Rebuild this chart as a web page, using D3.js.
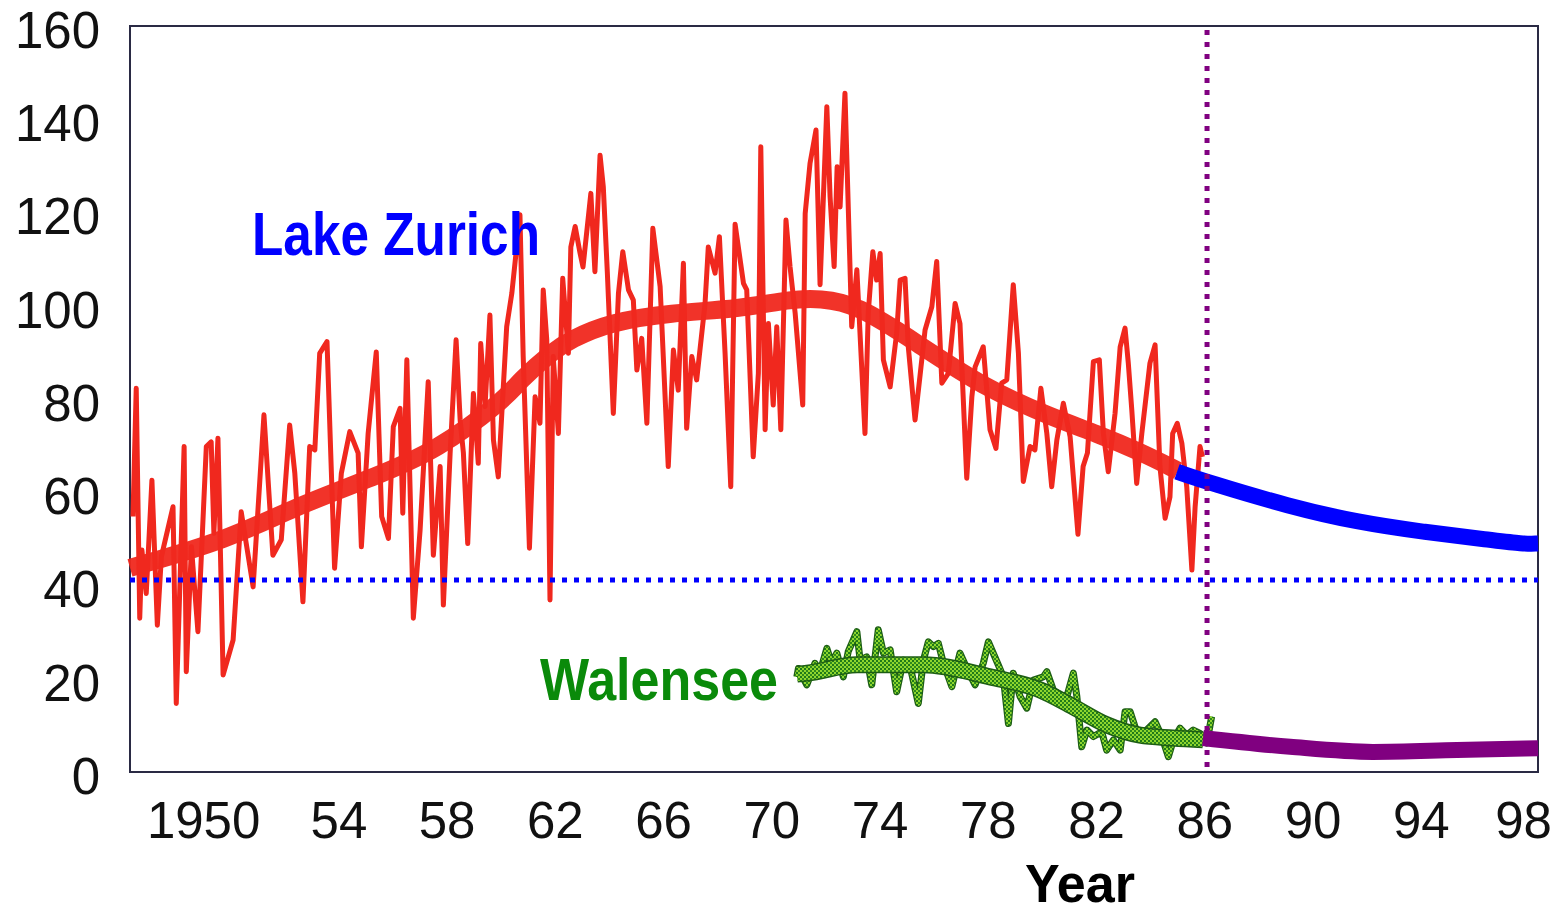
<!DOCTYPE html>
<html>
<head>
<meta charset="utf-8">
<script src="https://cdn.jsdelivr.net/npm/d3@7"></script>
<style>
  html, body { margin: 0; padding: 0; background: #fff; }
  svg { display: block; }
</style>
</head>
<body>
<svg id="chart"></svg>
<script>
// Lake Zurich monthly series [year, value]
const zurichMonthly = [
  [1946.41,54.8],[1946.53,82.3],[1946.66,33.0],[1946.74,47.6],[1946.90,38.3],[1947.11,62.6],[1947.31,31.5],[1947.46,46.2],
  [1947.89,56.9],[1948.01,14.7],[1948.30,69.8],[1948.38,21.5],[1948.57,48.3],[1948.81,30.1],[1949.12,69.8],[1949.30,70.8],
  [1949.40,51.2],[1949.55,71.6],[1949.74,20.8],[1950.11,28.3],[1950.41,55.8],[1950.85,39.7],[1951.25,76.6],[1951.58,46.5],
  [1951.89,49.8],[1952.20,74.4],[1952.39,64.1],[1952.69,36.5],[1952.94,69.8],[1953.13,69.1],[1953.31,89.8],[1953.58,92.3],
  [1953.86,43.7],[1954.11,64.1],[1954.42,73.0],[1954.73,68.4],[1954.85,48.3],[1955.10,72.6],[1955.40,90.1],[1955.60,54.8],
  [1955.85,50.1],[1956.03,74.1],[1956.28,78.0],[1956.38,55.5],[1956.53,88.4],[1956.77,33.0],[1957.02,51.9],[1957.32,83.7],
  [1957.51,46.5],[1957.76,65.5],[1957.88,35.8],[1958.13,68.4],[1958.35,92.7],[1958.50,75.5],[1958.62,68.4],[1958.78,49.0],
  [1958.99,81.2],[1959.17,66.2],[1959.26,91.9],[1959.42,78.4],[1959.60,98.0],[1959.73,71.2],[1959.91,63.3],[1960.04,76.9],
  [1960.22,95.5],[1960.41,102.7],[1960.59,112.7],[1960.71,119.5],[1960.83,89.1],[1961.06,48.0],[1961.27,80.5],[1961.45,74.8],
  [1961.57,103.4],[1961.70,92.7],[1961.82,36.9],[1961.94,89.1],[1962.13,72.6],[1962.29,105.9],[1962.50,89.8],[1962.59,112.6],
  [1962.75,117.0],[1962.93,111.3],[1963.04,108.3],[1963.33,124.1],[1963.48,107.3],[1963.67,132.3],[1963.79,125.5],[1963.94,107.0],
  [1964.16,76.9],[1964.35,102.7],[1964.51,111.6],[1964.72,103.4],[1964.90,101.2],[1965.03,86.2],[1965.21,93.0],[1965.40,74.8],
  [1965.62,116.6],[1965.89,104.1],[1966.19,65.5],[1966.38,90.5],[1966.56,81.9],[1966.75,109.1],[1966.87,73.7],[1967.06,89.1],
  [1967.24,84.1],[1967.55,100.5],[1967.67,112.6],[1967.92,107.0],[1968.08,114.8],[1968.29,89.8],[1968.50,61.2],[1968.66,117.5],
  [1968.97,104.8],[1969.09,103.4],[1969.33,67.6],[1969.52,85.5],[1969.61,134.1],[1969.77,73.4],[1969.89,96.2],[1970.07,78.7],
  [1970.20,95.5],[1970.35,73.4],[1970.54,118.4],[1970.69,108.4],[1970.88,98.4],[1971.16,78.7],[1971.25,119.8],[1971.43,130.6],
  [1971.65,137.7],[1971.80,104.5],[1972.05,142.7],[1972.17,123.4],[1972.32,108.4],[1972.43,129.8],[1972.54,121.2],[1972.72,145.6],
  [1972.97,95.5],[1973.16,107.7],[1973.46,72.6],[1973.58,98.4],[1973.75,111.6],[1973.89,105.5],[1974.02,111.2],[1974.14,88.4],
  [1974.39,82.6],[1974.63,94.1],[1974.76,105.5],[1974.94,105.9],[1975.06,91.2],[1975.31,75.5],[1975.49,84.8],[1975.68,94.8],
  [1975.93,99.8],[1976.11,109.5],[1976.30,83.4],[1976.54,85.5],[1976.79,100.5],[1976.97,96.2],[1977.22,63.0],[1977.41,80.5],
  [1977.53,86.9],[1977.83,91.2],[1978.08,73.4],[1978.30,69.4],[1978.51,83.4],[1978.70,84.1],[1978.94,104.5],[1979.13,89.8],
  [1979.31,62.3],[1979.56,69.8],[1979.74,69.1],[1979.96,82.3],[1980.18,72.6],[1980.36,61.2],[1980.55,71.2],[1980.79,79.1],
  [1981.04,71.9],[1981.33,51.0],[1981.52,65.5],[1981.68,68.4],[1981.90,88.0],[1982.12,88.4],[1982.27,72.6],[1982.45,64.4],
  [1982.70,76.9],[1982.89,91.2],[1983.07,95.2],[1983.19,87.7],[1983.32,77.6],[1983.50,61.9],[1983.69,72.6],[1983.99,87.7],
  [1984.18,91.6],[1984.36,65.5],[1984.55,54.4],[1984.73,59.0],[1984.83,72.6],[1985.00,74.8],[1985.17,70.5],[1985.35,61.2],
  [1985.54,43.3],[1985.66,56.9],[1985.84,69.8],[1985.93,67.6]
];

// smoothed Lake Zurich curve
const zurichTrend = [
  [1946.30,43.8],[1949.92,49.8],[1952.40,56.9],[1955.35,63.3],[1957.65,69.0],[1960.08,79.5],[1960.71,84.0],
  [1961.93,90.3],[1962.56,92.7],[1964.04,96.5],[1966.26,98.5],[1968.84,99.3],[1970.69,101.4],[1971.80,101.6],
  [1973.17,100.3],[1975.38,92.0],[1977.82,82.6],[1980.30,76.2],[1982.07,72.5],[1983.62,68.7],[1985.03,64.6]
];

// Lake Zurich projection
const zurichForecast = [
  [1984.99,64.4],[1986.10,62.2],[1989.17,56.9],[1991.64,53.6],[1994.08,51.5],[1996.56,49.8],[1997.78,48.9],[1998.33,49.0]
];

// Walensee series
const walenseeMonthly = [
  [1970.94,20.4],[1971.00,22.2],[1971.31,18.7],[1971.61,23.3],[1971.80,21.5],[1972.05,26.5],[1972.23,23.3],[1972.42,25.5],
  [1972.66,20.4],[1972.84,25.8],[1973.16,30.1],[1973.28,24.0],[1973.52,24.7],[1973.71,18.7],[1973.95,30.5],[1974.14,25.5],
  [1974.39,26.2],[1974.63,17.2],[1974.88,24.0],[1975.12,22.9],[1975.43,14.7],[1975.62,24.0],[1975.80,27.9],[1975.99,26.9],
  [1976.17,27.6],[1976.36,23.3],[1976.67,18.3],[1976.97,25.5],[1977.28,21.5],[1977.53,18.7],[1977.83,23.3],[1978.02,27.9],
  [1978.39,22.9],[1978.57,20.4],[1978.76,10.4],[1978.94,21.2],[1979.19,16.2],[1979.44,13.7],[1979.68,19.7],[1980.05,20.4],
  [1980.18,21.5],[1980.42,17.6],[1980.67,16.5],[1980.92,16.2],[1981.16,21.2],[1981.29,16.2],[1981.47,5.4],[1981.66,9.0],
  [1981.90,7.6],[1982.21,8.6],[1982.39,4.7],[1982.64,6.9],[1982.89,4.7],[1983.07,12.9],[1983.26,12.9],[1983.44,9.7],
  [1983.63,7.6],[1983.87,9.0],[1984.18,10.8],[1984.43,7.6],[1984.67,3.3],[1984.86,6.9],[1985.10,9.4],[1985.35,7.9],
  [1985.59,9.0],[1985.84,8.3],[1986.09,6.2],[1986.27,11.9]
];

const walenseeTrend = [
  [1970.95,21.0],[1971.32,21.2],[1973.17,23.0],[1975.61,23.0],[1978.08,20.4],[1979.93,17.6],
  [1981.15,14.0],[1982.40,10.1],[1983.62,7.9],[1984.84,7.3],[1985.95,6.9]
];

const walenseeForecast = [
  [1985.95,7.3],[1989.17,5.4],[1992.23,4.3],[1995.34,4.7],[1998.33,5.1]
];

const targetLevel = 41.2;     // dotted horizontal
const forecastStart = 1986.1; // dotted vertical

const yTicks = [0, 20, 40, 60, 80, 100, 120, 140, 160];
const xTicks = [1950, 1954, 1958, 1962, 1966, 1970, 1974, 1978, 1982, 1986, 1990, 1994, 1998];
const xTickLabels = ["1950", "54", "58", "62", "66", "70", "74", "78", "82", "86", "90", "94", "98"];

const width = 1562, height = 914;
const plotLeft = 130, plotRight = 1538, plotTop = 26, plotBottom = 772;

const svg = d3.select("#chart").attr("width", width).attr("height", height);

const x = d3.scaleLinear().domain([1946.3, 1998.33]).range([plotLeft, plotRight]);
const y = d3.scaleLinear().domain([0, 160]).range([plotBottom, plotTop]);

// green texture for Walensee lines
const defs = svg.append("defs");
const pat = defs.append("pattern")
    .attr("id", "greenTex")
    .attr("width", 4).attr("height", 4)
    .attr("patternUnits", "userSpaceOnUse");
pat.append("rect").attr("width", 4).attr("height", 4).attr("fill", "#8fd62e");
pat.append("rect").attr("width", 2).attr("height", 2).attr("fill", "#1f7a18");
pat.append("rect").attr("x", 2).attr("y", 2).attr("width", 2).attr("height", 2).attr("fill", "#2f8a1c");

const line = d3.line().x(d => x(d[0])).y(d => y(d[1]));
const smooth = d3.line().x(d => x(d[0])).y(d => y(d[1])).curve(d3.curveMonotoneX);
const softer = d3.line().x(d => x(d[0])).y(d => y(d[1])).curve(d3.curveBasis);

// frame
svg.append("rect")
    .attr("x", plotLeft).attr("y", plotTop)
    .attr("width", plotRight - plotLeft).attr("height", plotBottom - plotTop)
    .attr("fill", "none")
    .attr("stroke", "#2a2a44")
    .attr("stroke-width", 2);

// y axis
const yAxis = svg.append("g")
    .attr("transform", `translate(${plotLeft},0)`)
    .call(d3.axisLeft(y).tickValues(yTicks).tickSize(0).tickPadding(30));
yAxis.select(".domain").remove();
yAxis.selectAll("text")
    .attr("font-family", "'Liberation Sans', Arial, Helvetica, sans-serif")
    .attr("font-size", 51)
    .attr("fill", "#111")
    .attr("dy", "0.42em");

// x axis
const xAxis = svg.append("g")
    .attr("transform", `translate(0,${plotBottom})`)
    .call(d3.axisBottom(x).tickValues(xTicks).tickSize(0)
        .tickFormat((d, i) => xTickLabels[i]));
xAxis.select(".domain").remove();
xAxis.selectAll("text")
    .attr("font-family", "'Liberation Sans', Arial, Helvetica, sans-serif")
    .attr("font-size", 51)
    .attr("fill", "#111")
    .attr("y", 66)
    .attr("dy", 0)
    .attr("dx", (d, i) => i === 0 ? -27 : (i === xTicks.length - 1 ? -6 : 0));

// Lake Zurich
svg.append("path")
    .datum(zurichTrend)
    .attr("d", softer)
    .attr("fill", "none")
    .attr("stroke", "#f0281e")
    .attr("stroke-width", 18)
    .attr("opacity", 0.95);

svg.append("path")
    .datum(zurichMonthly)
    .attr("d", line)
    .attr("fill", "none")
    .attr("stroke", "#f0281e")
    .attr("stroke-width", 5)
    .attr("stroke-linejoin", "round");

svg.append("path")
    .datum(zurichForecast)
    .attr("d", softer)
    .attr("fill", "none")
    .attr("stroke", "#0000ff")
    .attr("stroke-width", 16);

// dotted reference line
svg.append("line")
    .attr("x1", plotLeft).attr("x2", plotRight)
    .attr("y1", y(targetLevel)).attr("y2", y(targetLevel))
    .attr("stroke", "#0000ff")
    .attr("stroke-width", 5)
    .attr("stroke-dasharray", "5,7");

// Walensee
svg.append("path")
    .datum(walenseeMonthly)
    .attr("d", line)
    .attr("fill", "none")
    .attr("stroke", "#1d5e14")
    .attr("stroke-width", 7)
    .attr("stroke-linejoin", "round");
svg.append("path")
    .datum(walenseeMonthly)
    .attr("d", line)
    .attr("fill", "none")
    .attr("stroke", "url(#greenTex)")
    .attr("stroke-width", 4.5)
    .attr("stroke-linejoin", "round");

svg.append("path")
    .datum(walenseeTrend)
    .attr("d", smooth)
    .attr("fill", "none")
    .attr("stroke", "#1d5e14")
    .attr("stroke-width", 17);
svg.append("path")
    .datum(walenseeTrend)
    .attr("d", smooth)
    .attr("fill", "none")
    .attr("stroke", "url(#greenTex)")
    .attr("stroke-width", 14);

svg.append("path")
    .datum(walenseeForecast)
    .attr("d", smooth)
    .attr("fill", "none")
    .attr("stroke", "#800080")
    .attr("stroke-width", 16);

// dotted vertical at forecast start
svg.append("line")
    .attr("x1", x(forecastStart)).attr("x2", x(forecastStart))
    .attr("y1", plotTop + 4).attr("y2", plotBottom)
    .attr("stroke", "#800080")
    .attr("stroke-width", 5)
    .attr("stroke-dasharray", "5,7");

// labels
const narrow = "'Liberation Sans Narrow', 'Arial Narrow', 'Liberation Sans', Arial, sans-serif";
svg.append("text")
    .attr("x", 252).attr("y", 255)
    .attr("font-family", narrow)
    .attr("font-weight", "bold")
    .attr("font-size", 62)
    .attr("textLength", 288)
    .attr("lengthAdjust", "spacingAndGlyphs")
    .attr("fill", "#0000ff")
    .text("Lake Zurich");

svg.append("text")
    .attr("x", 540).attr("y", 700)
    .attr("font-family", narrow)
    .attr("font-weight", "bold")
    .attr("font-size", 60)
    .attr("textLength", 238)
    .attr("lengthAdjust", "spacingAndGlyphs")
    .attr("fill", "#0a8a0a")
    .text("Walensee");

svg.append("text")
    .attr("x", 1025).attr("y", 902)
    .attr("font-family", narrow)
    .attr("font-weight", "bold")
    .attr("font-size", 53)
    .attr("textLength", 110)
    .attr("lengthAdjust", "spacingAndGlyphs")
    .attr("fill", "#000")
    .text("Year");
</script>
</body>
</html>
